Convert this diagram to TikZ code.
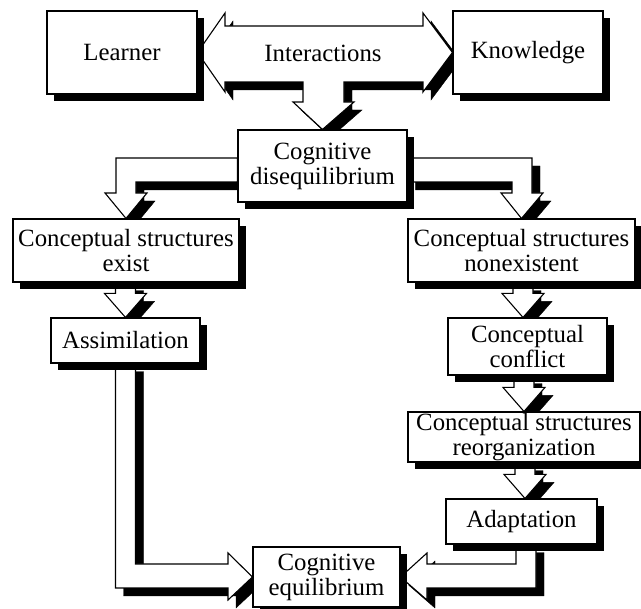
\documentclass[tikz,border=0pt]{standalone}
\usepackage{fontspec}
\setmainfont{Liberation Serif}
\usetikzlibrary{calc,shadows}
\pgfdeclarelayer{arrowlayer}
\pgfsetlayers{arrowlayer,main}
\tikzset{
  box/.style={draw=black, fill=white, line width=1.1pt, inner sep=1pt, align=center,
    font=\fontsize{24.8}{25}\selectfont,
    drop shadow={shadow xshift=7pt, shadow yshift=-7pt, opacity=1, fill=black}},
  fatarrow/.style={draw=black, fill=white, line width=1.1pt, line join=miter,
    preaction={fill=black, draw=black, transform canvas={xshift=8pt, yshift=-8pt}}},
  lbl/.style={font=\fontsize{24.8}{25}\selectfont, inner sep=0pt}
}
\newcommand\fatdown[3]{%
  \draw[fatarrow] ($(#1.south -| #2.north)+(#3-10,0)$) -- ($(#2.north)+(#3-10,-24)$)
    -- ($(#2.north)+(#3-21,-24)$) -- ($(#2.north)+(#3,0)$) -- ($(#2.north)+(#3+21,-24)$)
    -- ($(#2.north)+(#3+10,-24)$) -- ($(#1.south -| #2.north)+(#3+10,0)$) -- cycle;}
\begin{document}
\begin{tikzpicture}[x=1pt,y=-1pt]
\useasboundingbox (0,0) rectangle (641,609);
% boxes
\node[box, minimum width=150pt, minimum height=83pt] (learner) at (122,52.5) {Learner};
\node[box, minimum width=150pt, minimum height=83pt] (knowledge) at (528,52.5) {Knowledge};
\node[box, minimum width=169pt, minimum height=72pt] (dis) at (322.5,166) {Cognitive\\disequilibrium};
\node[box, minimum width=226pt, minimum height=63pt] (exist) at (126,250.5) {Conceptual structures\\exist};
\node[box, minimum width=227pt, minimum height=63pt] (nonex) at (521.5,250.5) {Conceptual structures\\nonexistent};
\node[box, minimum width=149pt, minimum height=45pt] (assim) at (125.5,340.5) {Assimilation};
\node[box, minimum width=159pt, minimum height=57pt] (conflict) at (527.5,346.5) {Conceptual\\conflict};
\node[box, minimum width=232pt, minimum height=50pt] (reorg) at (524,437) {Conceptual structures\\reorganization};
\node[box, minimum width=151pt, minimum height=45pt] (adapt) at (521.5,521.5) {Adaptation};
\node[box, minimum width=147pt, minimum height=60pt] (equil) at (326.5,577) {Cognitive\\equilibrium};
\begin{pgfonlayer}{arrowlayer}
% Interactions double arrow with stem down to disequilibrium
\draw[fatarrow] (learner.east) -- (225,13) -- (225,26) -- (423,26) -- (423,13)
  -- (knowledge.west) -- (423,92) -- (423,82) -- (344,82) -- (344,102) -- (354,102)
  -- (dis.north) -- (293,102) -- (303,102) -- (303,82) -- (225,82) -- (225,92) -- cycle;
% branches from disequilibrium
\draw[fatarrow] ($(dis.west)+(0,-8)$) -- (116,158) -- (116,193) -- (105,193)
  -- (exist.north) -- (147,193) -- (136,193) -- (136,182) -- ($(dis.west)+(0,16)$) -- cycle;
\draw[fatarrow] ($(dis.east)+(0,-8)$) -- (532,158) -- (532,193) -- (543,193)
  -- (nonex.north) -- (501,193) -- (512,193) -- (512,182) -- ($(dis.east)+(0,16)$) -- cycle;
% vertical arrows
\fatdown{exist}{assim}{0}
\fatdown{nonex}{conflict}{-4.5}
\fatdown{conflict}{reorg}{0}
\fatdown{reorg}{adapt}{3.5}
% to equilibrium
\draw[fatarrow] ($(assim.south)+(-10,0)$) -- (115.5,588) -- (228,588) -- (228,600)
  -- (equil.west) -- (228,553) -- (228,564) -- (135.5,564) -- ($(assim.south)+(10,0)$) -- cycle;
\draw[fatarrow] ($(adapt.south)+(-5.5,0)$) -- (516,564) -- (427,564) -- (427,553)
  -- (equil.east) -- (427,600) -- (427,588) -- (536,588) -- ($(adapt.south)+(14.5,0)$) -- cycle;
\end{pgfonlayer}
\node[lbl] (inter) at (323,53) {Interactions};
\end{tikzpicture}
\end{document}
